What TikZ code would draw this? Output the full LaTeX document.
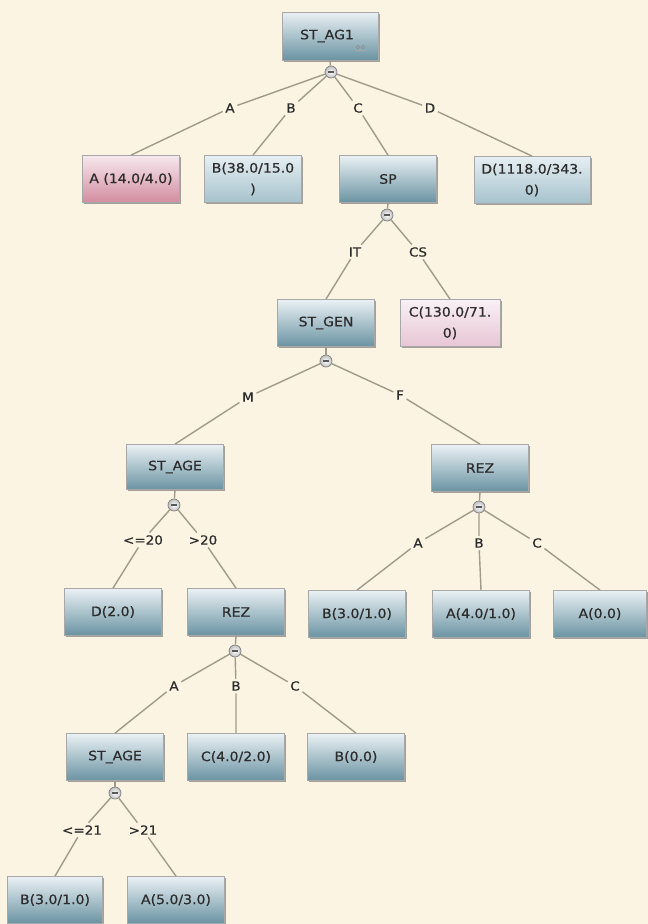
\documentclass[tikz,border=0pt]{standalone}
\usepackage{fontspec}
\setmainfont{DejaVu Sans}[FakeStretch=1.08, FakeBold=0.6]
\usetikzlibrary{shadows}
\definecolor{bg}{HTML}{FCF4E2}
\definecolor{edgec}{HTML}{A09A88}
\definecolor{boxtop}{HTML}{EAF1F4}
\definecolor{boxbot}{HTML}{6A93A2}
\definecolor{ltop}{HTML}{E6EFF3}
\definecolor{lbot}{HTML}{A6C2CC}
\definecolor{ptop}{HTML}{F6E8EE}
\definecolor{pbot}{HTML}{D38CA0}
\definecolor{lptop}{HTML}{F8F0F4}
\definecolor{lpbot}{HTML}{E8C6D5}
\definecolor{txt}{HTML}{2C2C2C}
\definecolor{brd}{HTML}{A8A8A8}
\tikzset{
  tbox/.style={rectangle, draw=brd, line width=0.8pt, minimum width=97pt, minimum height=47pt,
    inner sep=1pt, align=center, text=txt, font=\fontsize{13}{21}\selectfont,
    top color=boxtop, bottom color=boxbot,
    drop shadow={shadow xshift=1.8pt, shadow yshift=-1.8pt, fill=black!55, opacity=0.65}},
  lbox/.style={tbox, top color=ltop, bottom color=lbot},
  pbox/.style={tbox, top color=ptop, bottom color=pbot},
  lpbox/.style={tbox, top color=lptop, bottom color=lpbot},
  knob/.style={circle, draw=black!50, line width=0.7pt, minimum size=12pt, inner sep=0pt,
    inner color=white, outer color=black!25,
    path picture={\draw[line width=1.3pt, black!65] ([xshift=-2.6pt]path picture bounding box.center) -- ([xshift=2.6pt]path picture bounding box.center);}},
  elab/.style={inner sep=2.5pt, text=txt, font=\fontsize{12.5}{14}\selectfont},
  edge/.style={draw=edgec, line width=1.4pt}
}
\begin{document}
\begin{tikzpicture}[x=1pt, y=-1pt]
\fill[bg] (0,0) rectangle (648,924);
\useasboundingbox (0,0) rectangle (648,924);

% boxes
\node[tbox, minimum width=96pt, minimum height=48pt] (root) at (330,36) {ST\_AG1\hspace{6pt}};
\node[pbox] (nA) at (131,179) {A (14.0/4.0)};
\node[lbox] (nB) at (253,179) {B(38.0/15.0\\)};
\node[tbox] (sp) at (388,179) {SP};
\node[lbox, minimum width=116pt] (nD) at (532,180) {D(1118.0/343.\\0)};
\node[tbox] (stgen) at (326,323) {ST\_GEN};
\node[lpbox, minimum width=100pt] (nC) at (450,323) {C(130.0/71.\\0)};
\node[tbox, minimum height=45pt] (age1) at (175,467) {ST\_AGE};
\node[tbox] (rez1) at (480,468) {REZ};
\node[tbox] (d20) at (113,612) {D(2.0)};
\node[tbox] (rez2) at (236,612) {REZ};
\node[tbox] (rb31) at (357,614) {B(3.0/1.0)};
\node[tbox] (ra41) at (481,614) {A(4.0/1.0)};
\node[tbox, minimum width=93pt] (ra00) at (600,614) {A(0.0)};
\node[tbox] (age2) at (115,757) {ST\_AGE};
\node[tbox] (c42) at (236,757) {C(4.0/2.0)};
\node[tbox] (b00) at (356,757) {B(0.0)};
\node[tbox, minimum width=95pt] (b31) at (55,900) {B(3.0/1.0)};
\node[tbox] (a53) at (176,900) {A(5.0/3.0)};

% small icon on root
\draw[black!45, line width=0.6pt] (358,47) circle (1.8pt) (363,47) circle (1.8pt);
\draw[black!35, line width=0.5pt] (355,50) -- (366,50);

% knobs
\node[knob] (k0) at (331,72) {};
\node[knob] (k1) at (387,215) {};
\node[knob] (k2) at (326,361) {};
\node[knob] (k3) at (174,505) {};
\node[knob] (k4) at (479,507) {};
\node[knob] (k5) at (235,651) {};
\node[knob] (k6) at (115,793) {};

% labels
\node[elab] (l0a) at (230,108) {A};
\node[elab] (l0b) at (291,108) {B};
\node[elab] (l0c) at (358,108) {C};
\node[elab] (l0d) at (430,108) {D};
\node[elab] (l1a) at (355,252) {IT};
\node[elab] (l1b) at (418,252) {CS};
\node[elab] (l2a) at (248,397) {M};
\node[elab] (l2b) at (400,395) {F};
\node[elab] (l3a) at (143,540) {<=20};
\node[elab] (l3b) at (203,540) {>20};
\node[elab] (l4a) at (418,543) {A};
\node[elab] (l4b) at (479,543) {B};
\node[elab] (l4c) at (537,543) {C};
\node[elab] (l5a) at (174,686) {A};
\node[elab] (l5b) at (236,686) {B};
\node[elab] (l5c) at (295,686) {C};
\node[elab] (l6a) at (82,830) {<=21};
\node[elab] (l6b) at (143,830) {>21};

% edges
\path[edge] (root.south) -- (k0);
\path[edge] (k0) -- (l0a) -- (nA.north);
\path[edge] (k0) -- (l0b) -- (nB.north);
\path[edge] (k0) -- (l0c) -- (sp.north);
\path[edge] (k0) -- (l0d) -- (nD.north);
\path[edge] (sp.south) -- (k1);
\path[edge] (k1) -- (l1a) -- (stgen.north);
\path[edge] (k1) -- (l1b) -- (nC.north);
\path[edge] (stgen.south) -- (k2);
\path[edge] (k2) -- (l2a) -- (age1.north);
\path[edge] (k2) -- (l2b) -- (rez1.north);
\path[edge] (age1.south) -- (k3);
\path[edge] (k3) -- (l3a) -- (d20.north);
\path[edge] (k3) -- (l3b) -- (rez2.north);
\path[edge] (rez1.south) -- (k4);
\path[edge] (k4) -- (l4a) -- (rb31.north);
\path[edge] (k4) -- (l4b) -- (ra41.north);
\path[edge] (k4) -- (l4c) -- (ra00.north);
\path[edge] (rez2.south) -- (k5);
\path[edge] (k5) -- (l5a) -- (age2.north);
\path[edge] (k5) -- (l5b) -- (c42.north);
\path[edge] (k5) -- (l5c) -- (b00.north);
\path[edge] (age2.south) -- (k6);
\path[edge] (k6) -- (l6a) -- (b31.north);
\path[edge] (k6) -- (l6b) -- (a53.north);
\end{tikzpicture}
\end{document}
